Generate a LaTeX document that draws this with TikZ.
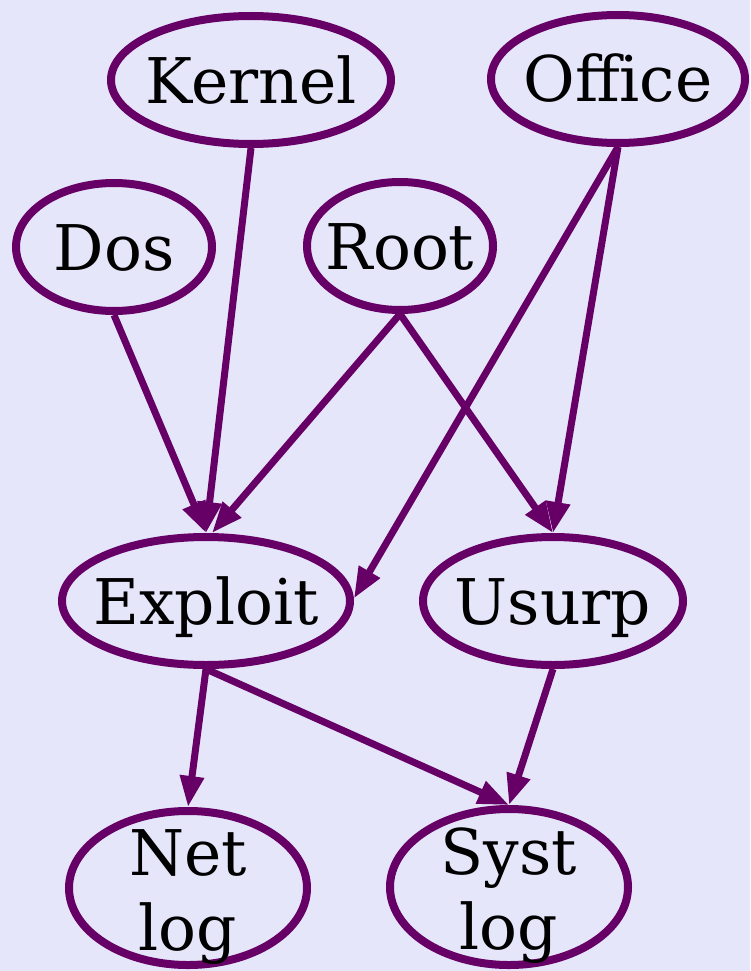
\documentclass[tikz,border=0pt]{standalone}
\usepackage{fontspec}
\setmainfont{DejaVu Serif}
\usetikzlibrary{shapes.geometric,arrows.meta}
\definecolor{bgc}{HTML}{E6E6FA}
\definecolor{pur}{HTML}{660066}
\newcommand\onel[1]{\makebox[0pt]{#1}}
\newcommand\twol[2]{\makebox[0pt]{\raisebox{36pt}[0pt][0pt]{#1}}\makebox[0pt]{\raisebox{-39pt}[0pt][0pt]{#2}}}
\begin{document}
\begin{tikzpicture}[x=1pt,y=-1pt,
  gnode/.style={ellipse, draw=pur, line width=8pt, inner sep=0pt,
    font=\fontsize{63}{75}\selectfont, text height=46pt, text depth=0pt},
  gedge/.style={draw=pur, line width=7pt, -{Triangle[length=31pt,width=23pt]}}
]
\fill[bgc] (0,0) rectangle (750,971);
\useasboundingbox (0,0) rectangle (750,971);
\node[gnode, minimum width=280pt, minimum height=128pt] (kernel) at (251,80) {\onel{Kernel}};
\node[gnode, minimum width=254pt, minimum height=128pt] (office) at (618,79) {\onel{Office}};
\node[gnode, minimum width=196pt, minimum height=128pt] (dos) at (114,247) {\onel{Dos}};
\node[gnode, minimum width=186pt, minimum height=128pt] (root) at (400,246) {\onel{Root}};
\node[gnode, minimum width=288pt, minimum height=128pt] (exploit) at (206,601) {\onel{Exploit}};
\node[gnode, minimum width=260pt, minimum height=128pt] (usurp) at (553,601) {\onel{Usurp}};
\node[gnode, minimum width=238pt, minimum height=154pt] (netlog) at (188,888) {\twol{Net}{log}};
\node[gnode, minimum width=238pt, minimum height=156pt] (systlog) at (509,887) {\twol{Syst}{log}};
\draw[gedge] (kernel.south) -- (exploit.north);
\draw[gedge] (dos.south) -- (exploit.north);
\draw[gedge] (root.south) -- (exploit.85);
\draw[gedge] (root.south) -- (usurp.north);
\draw[gedge] (office.south) -- (exploit.1);
\draw[gedge] (office.south) -- (usurp.north);
\draw[gedge] (exploit.south) -- (netlog.north);
\draw[gedge] (exploit.south) -- (systlog.north);
\draw[gedge] (usurp.south) -- (systlog.north);
\end{tikzpicture}
\end{document}
